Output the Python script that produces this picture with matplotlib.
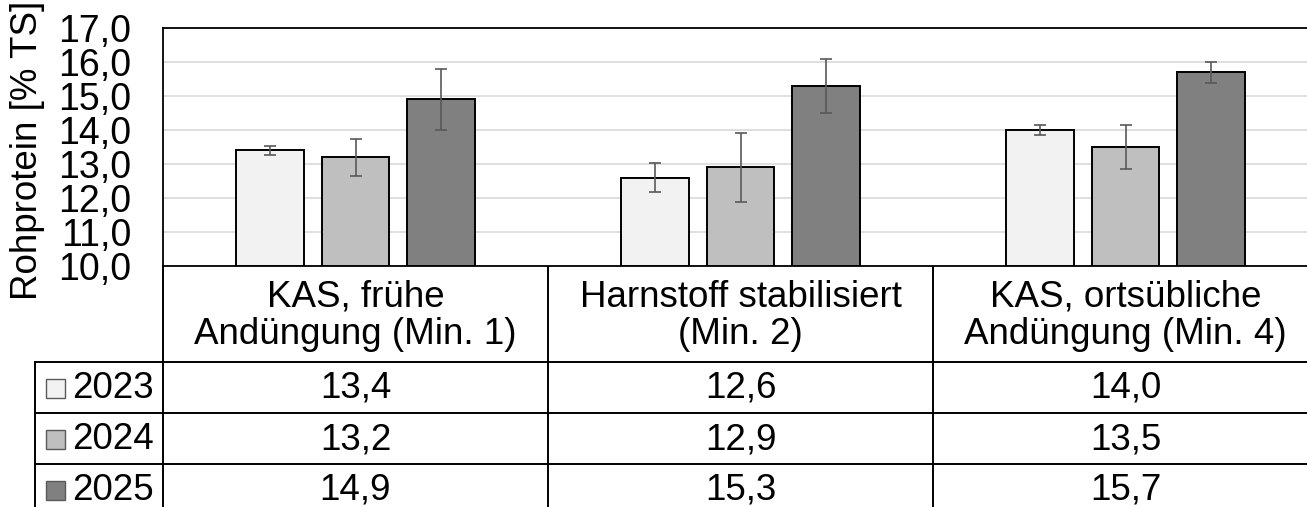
import matplotlib
matplotlib.use("Agg")
import matplotlib.pyplot as plt
from matplotlib.patches import Rectangle
import numpy as np

plt.rcParams['font.family'] = ['Liberation Sans', 'DejaVu Sans']

kategorien = ["KAS, frühe\nAndüngung (Min. 1)",
              "Harnstoff stabilisiert\n(Min. 2)",
              "KAS, ortsübliche\nAndüngung (Min. 4)"]
jahre = ["2023", "2024", "2025"]
werte = {
    "2023": [13.4, 12.6, 14.0],
    "2024": [13.2, 12.9, 13.5],
    "2025": [14.9, 15.3, 15.7],
}
fehler = {
    "2023": [0.13, 0.43, 0.15],
    "2024": [0.54, 1.02, 0.66],
    "2025": [0.90, 0.80, 0.31],
}
farben = {"2023": "#F2F2F2", "2024": "#BFBFBF", "2025": "#808080"}
y_ticks = [10, 11, 12, 13, 14, 15, 16, 17]

W, H = 1307, 507
fig = plt.figure(figsize=(W / 100, H / 100), dpi=100)

# pixel layout
links, rechts, oben, unten = 163, 1318, 28, 266
ax = fig.add_axes([links / W, (H - unten) / H, (rechts - links) / W, (unten - oben) / H])

x = np.arange(len(kategorien))
breite = 0.175
abstand = 0.222
for i, j in enumerate(jahre):
    pos = x + (i - 1) * abstand
    ax.bar(pos, np.array(werte[j]) - 10, bottom=10, width=breite, color=farben[j],
           edgecolor="black", linewidth=1.4, zorder=3)
    ax.errorbar(pos, werte[j], yerr=fehler[j], fmt="none", ecolor="#595959",
                elinewidth=1.2, capsize=4, capthick=1.2, zorder=4)

ax.set_xlim(-0.5, 2.5)
ax.set_ylim(10, 17)
ax.set_yticks(y_ticks)
ax.set_yticklabels([f"{v:.1f}".replace(".", ",") for v in y_ticks], fontsize=27)
ax.tick_params(axis="y", length=0, pad=23)
ax.set_xticks([])
ax.yaxis.grid(True, color="#D9D9D9", linewidth=1.2, zorder=0)
ax.set_axisbelow(True)
for s in ax.spines.values():
    s.set_color("black")
    s.set_linewidth(1.3)
fig.text(28 / W, 1 - 150 / H, "Rohprotein [% TS]", rotation=90, fontsize=26.5,
         ha="center", va="center")

# data table below the chart, in pixel coordinates
tab = fig.add_axes([0, 0, 1, 1], zorder=-1)
tab.set_xlim(0, W)
tab.set_ylim(H, 0)
tab.axis("off")

spalten = [links + k * (rechts - links) / 3 for k in range(4)]
kopf_unten = 362
zeilen_h = 51
lw = 1.4

tab.plot([links, links], [unten, H + 10], color="black", lw=lw)
for sx in spalten[1:3]:
    tab.plot([sx, sx], [unten, H + 10], color="black", lw=lw)
tab.plot([35, 35], [kopf_unten, H + 10], color="black", lw=lw)
for r in range(3):
    yy = kopf_unten + r * zeilen_h
    tab.plot([35, rechts], [yy, yy], color="black", lw=lw)

for k, kat in enumerate(kategorien):
    cx = (spalten[k] + spalten[k + 1]) / 2
    tab.text(cx, (unten + kopf_unten) / 2 + 2, kat, fontsize=26.5, ha="center",
             va="center", linespacing=1.1, multialignment="center")

for r, j in enumerate(jahre):
    cy = kopf_unten + r * zeilen_h + zeilen_h / 2 + 1
    tab.add_patch(Rectangle((46, cy - 9.5), 19, 19, facecolor=farben[j],
                            edgecolor="#595959", linewidth=1.0))
    tab.text(72, cy, j, fontsize=26.5, ha="left", va="center")
    for k in range(3):
        cx = (spalten[k] + spalten[k + 1]) / 2
        tab.text(cx, cy, f"{werte[j][k]:.1f}".replace(".", ","), fontsize=26.5,
                 ha="center", va="center")

fig.savefig("out.png", dpi=100)
